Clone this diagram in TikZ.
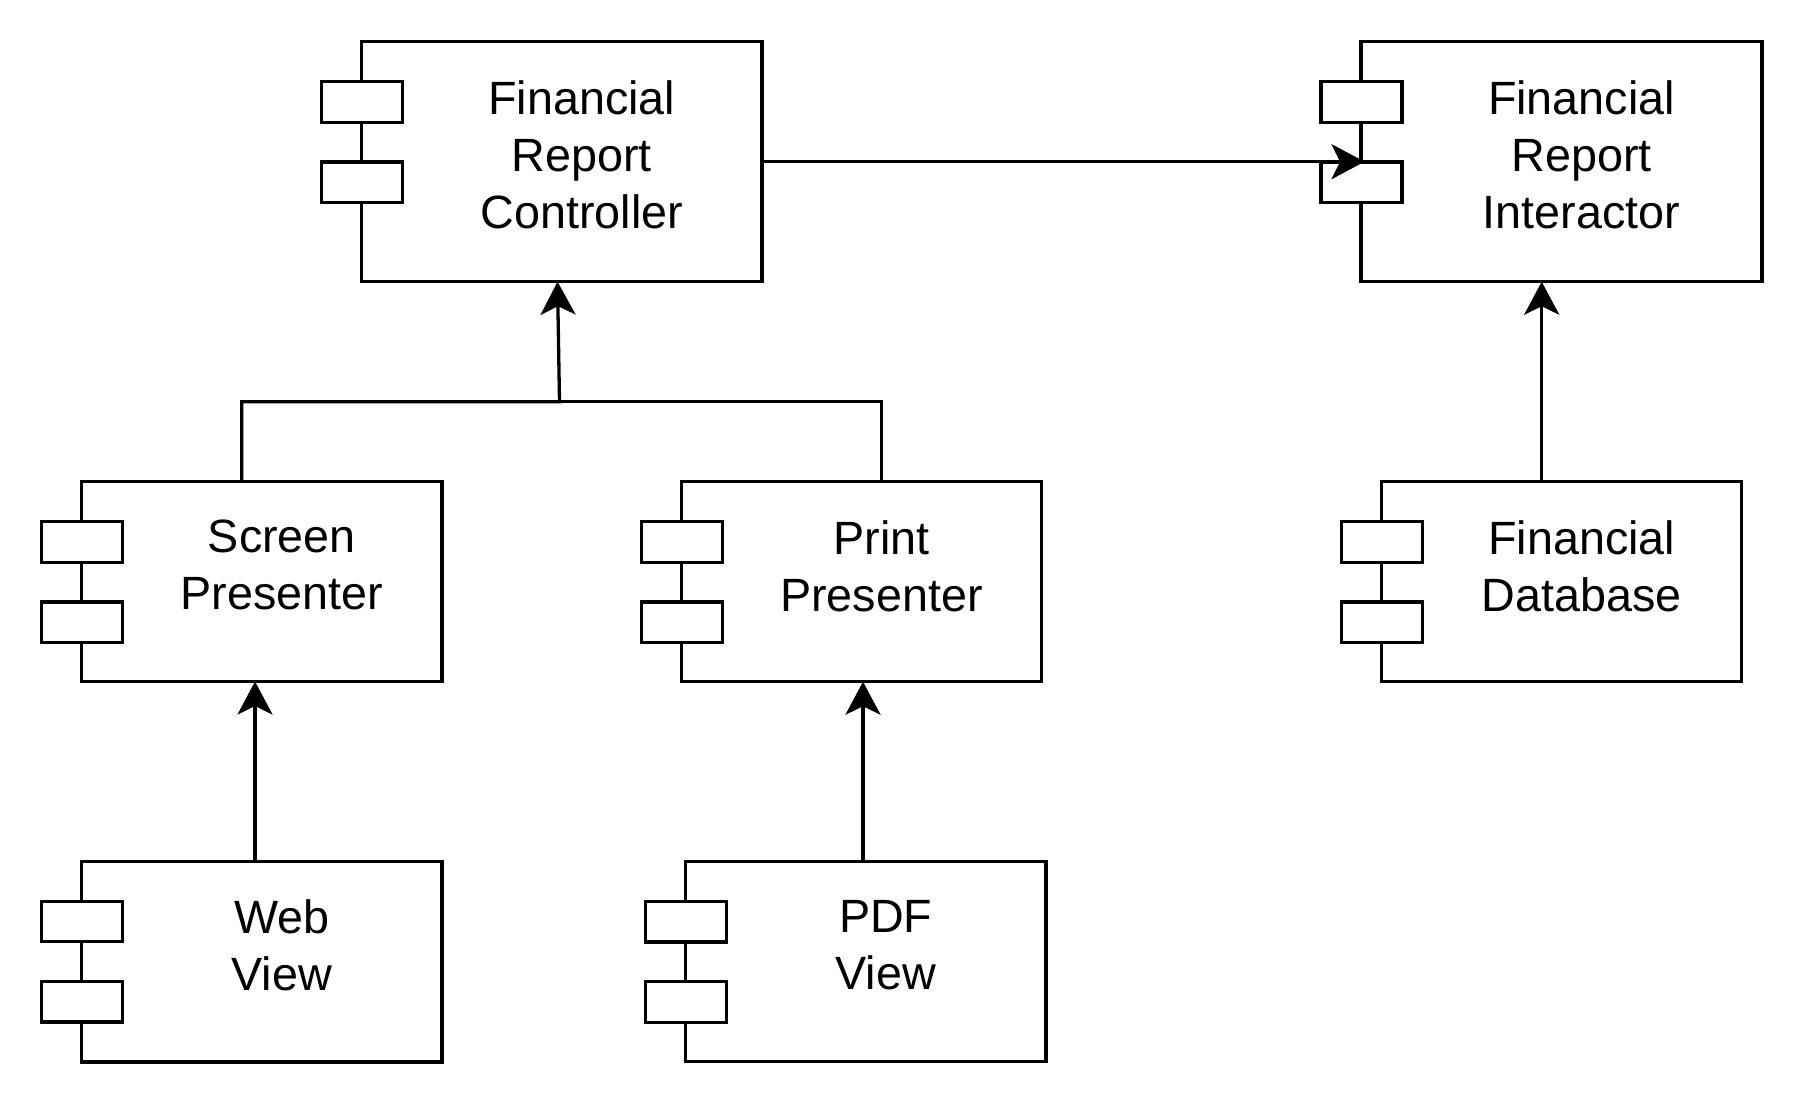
\documentclass[tikz,border=0pt]{standalone}
\usepackage{fontspec}
\setmainfont{Liberation Sans}
\usetikzlibrary{arrows.meta,calc}
\tikzset{
  compbox/.style={draw=black, line width=3.3pt, fill=white, rectangle, inner sep=0pt, outer sep=0pt},
  portbox/.style={draw=black, line width=3.3pt, fill=white},
  complabel/.style={inner sep=0pt, outer sep=0pt, anchor=north, align=center,
    font=\fontsize{46.7}{57}\selectfont},
  conn/.style={line width=3.3pt, draw=black},
  arr/.style={-{Stealth[length=33pt,width=35pt,inset=8.5pt]}},
}
% \umlcomp{name}{x1}{y1}{x2}{y2}{text}
\newcommand{\umlcomp}[6]{%
  \node[compbox, minimum width={#4-#2}, minimum height={#5-#3}] (#1) at ({(#2+#4)/2},{(#3+#5)/2}) {};
  \draw[portbox] ({#2-40},{#3+40}) rectangle ({#2+41},{#3+80.5});
  \draw[portbox] ({#2-40},{#3+120.3}) rectangle ({#2+41},{#3+160.7});
  \node[complabel] (#1-label) at ({(#2+#4)/2+20},{#3+38.5}) {#6};
}
\begin{document}
\begin{tikzpicture}[x=1pt,y=-1pt]
\useasboundingbox (0,0) rectangle (1804,1108);
\umlcomp{frc}{361.5}{41.7}{762}{281.7}{Financial\\Report\\Controller}
\umlcomp{fri}{1361}{41.7}{1762}{281.7}{Financial\\Report\\Interactor}
\umlcomp{sp}{81.7}{481.7}{442}{681.5}{Screen\\Presenter}
\umlcomp{pp}{681.3}{481.7}{1041.7}{681.7}{Print\\Presenter}
\umlcomp{fd}{1381.7}{481.7}{1741.7}{681.3}{Financial\\Database}
\umlcomp{wv}{81.5}{861.3}{442}{1062}{Web\\View}
\umlcomp{pdf}{685.5}{861.5}{1046}{1061.7}{PDF\\View}
\coordinate (bus) at (559.5,401.7);
% connectors
\draw[conn,arr,shorten >=-3.5pt] (frc) -- (fri);
\draw[conn,arr] (241.7,0 |- sp.north) |- (bus) -- (557.5,0 |- frc.south);
\draw[conn] (881.7,0 |- pp.north) |- (bus);
\draw[conn,arr] (255,0 |- wv.north) -- (255,0 |- sp.south);
\draw[conn,arr] (863,0 |- pdf.north) -- (863,0 |- pp.south);
\draw[conn,arr] (1541.7,0 |- fd.north) -- (1541.7,0 |- fri.south);
\end{tikzpicture}
\end{document}
